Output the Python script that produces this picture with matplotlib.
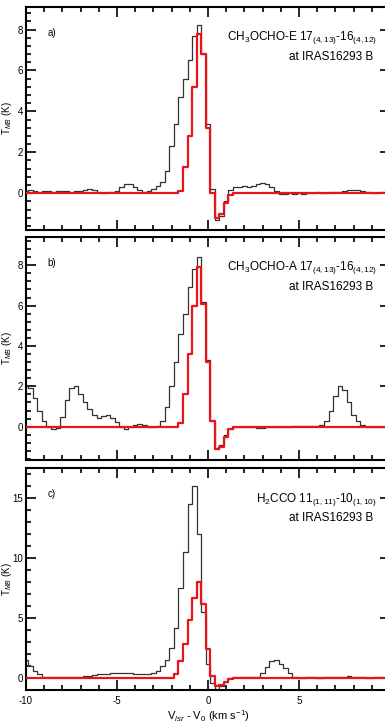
import numpy as np
import matplotlib
matplotlib.use('Agg')
import matplotlib.pyplot as plt
from matplotlib.ticker import MultipleLocator, FixedLocator

plt.rcParams['font.family'] = ['Liberation Sans', 'DejaVu Sans']
plt.rcParams['mathtext.fontset'] = 'custom'
plt.rcParams['mathtext.rm'] = 'Liberation Sans'
plt.rcParams['mathtext.it'] = 'Liberation Sans:italic'
plt.rcParams['axes.unicode_minus'] = False

# velocity channels (km/s), 0.25 km/s wide
v_start, v_step, n_chan = -10.0, 0.25, 81

# a) CH3OCHO-E
a_obs = [0.10, 0.15, 0.10, 0.05, 0.10, 0.10, 0.05, 0.10, 0.10, 0.10,
         0.05, 0.10, 0.10, 0.15, 0.20, 0.15, 0.05, 0.00, 0.05, 0.05,
         0.10, 0.30, 0.45, 0.45, 0.30, 0.15, 0.05, 0.10, 0.20, 0.35,
         0.55, 1.10, 2.30, 3.40, 4.70, 5.60, 6.50, 7.70, 8.20, 6.80,
         3.40, 0.20, -1.30, -1.10, -0.40, 0.15, 0.30, 0.30, 0.35, 0.30,
         0.35, 0.45, 0.50, 0.45, 0.30, 0.10, -0.05, -0.05, 0.00, -0.05,
         0.00, -0.05, 0.00, 0.00, 0.05, 0.00, 0.00, 0.05, 0.05, 0.05,
         0.10, 0.15, 0.15, 0.15, 0.10, 0.05, 0.00, 0.00, 0.05, 0.05, 0.05]
a_mod = [0.0] * 34 + [0.10, 1.30, 2.80, 5.20, 7.80, 6.80, 3.20, 0.00, -1.20,
                      -1.00, -0.50, -0.10] + [0.0] * 35

# b) CH3OCHO-A
b_obs = [2.00, 1.90, 1.40, 0.80, 0.30, 0.00, -0.10, -0.05, 0.50, 1.30,
         1.90, 2.00, 1.60, 1.20, 0.90, 0.60, 0.45, 0.55, 0.60, 0.45,
         0.25, 0.00, -0.10, 0.00, 0.10, 0.15, 0.10, 0.00, 0.00, 0.05,
         0.30, 1.00, 2.00, 3.20, 4.60, 5.60, 6.90, 7.80, 8.40, 6.20,
         3.30, 0.30, -1.10, -0.90, -0.40, -0.10, 0.00, 0.00, 0.00, 0.00,
         0.00, -0.05, -0.05, 0.00, 0.00, 0.00, 0.00, 0.00, 0.00, 0.05,
         0.05, 0.05, 0.05, 0.05, 0.05, 0.10, 0.30, 0.80, 1.50, 2.00,
         1.80, 1.20, 0.60, 0.30, 0.10, 0.00, 0.00, 0.00, 0.00, 0.00, 0.00]
b_mod = [0.0] * 34 + [0.20, 1.60, 3.60, 6.00, 7.90, 6.10, 3.20, 0.30, -1.10,
                      -1.00, -0.50, -0.10] + [0.0] * 35

# c) H2CCO
c_obs = [1.50, 1.00, 0.60, 0.30, 0.10, 0.05, 0.05, 0.05, 0.05, 0.05,
         0.10, 0.10, 0.10, 0.20, 0.20, 0.25, 0.30, 0.30, 0.35, 0.40,
         0.45, 0.40, 0.40, 0.40, 0.35, 0.35, 0.30, 0.30, 0.40, 0.60,
         1.00, 1.50, 2.50, 4.20, 7.50, 10.50, 14.50, 16.00, 12.00, 5.50,
         1.20, -0.40, -0.90, -0.70, -0.30, 0.00, 0.05, 0.05, 0.05, 0.05,
         0.05, 0.05, 0.40, 0.90, 1.40, 1.50, 1.20, 0.80, 0.40, 0.10,
         0.00, 0.00, 0.05, 0.05, 0.00, 0.00, 0.05, 0.05, 0.05, 0.10,
         0.10, 0.15, 0.10, 0.05, 0.05, 0.00, 0.00, 0.05, 0.05, 0.05, 0.05]
c_mod = [0.0] * 33 + [0.30, 1.40, 2.80, 4.80, 6.70, 8.00, 6.20, 2.40, 0.20,
                      -0.70, -0.60, -0.30, -0.10] + [0.0] * 35

panel_tags = ['a)', 'b)', 'c)']
line_names = [r'CH$_3$OCHO-E 17$_{(4,13)}$-16$_{(4,12)}$',
              r'CH$_3$OCHO-A 17$_{(4,13)}$-16$_{(4,12)}$',
              r'H$_2$CCO 11$_{(1,11)}$-10$_{(1,10)}$']
source = 'at IRAS16293 B'
ylims = [(-1.8, 9.1), (-1.65, 9.4), (-1.0, 17.5)]
ymajor = [2, 2, 5]
yminor = [0.4, 0.4, 1]
xlabelled = [-10, -5, 0, 5]

vel = v_start + v_step * np.arange(n_chan)
obs = [a_obs, b_obs, c_obs]
mod = [a_mod, b_mod, c_mod]

fig = plt.figure(figsize=(3.85, 7.24), dpi=100)
W, H = 385.0, 724.0
left, right = 26, 390
tops = [7, 237, 468]
bottoms = [230, 460, 690]

for k in range(3):
    h = bottoms[k] - tops[k]
    ax = fig.add_axes([left / W, 1 - bottoms[k] / H, (right - left) / W, h / H])
    ax.step(vel, obs[k], where='mid', color='#333333', lw=0.9, zorder=2)
    ax.step(vel, mod[k], where='mid', color='#e8141a', lw=1.6, zorder=3)
    ax.set_xlim(-10, 10)
    ax.set_ylim(*ylims[k])
    ax.xaxis.set_major_locator(FixedLocator(xlabelled))
    ax.xaxis.set_minor_locator(MultipleLocator(1))
    ax.yaxis.set_major_locator(MultipleLocator(ymajor[k]))
    ax.yaxis.set_minor_locator(MultipleLocator(yminor[k]))
    ax.tick_params(which='both', direction='in', top=True, right=True,
                   labelsize=7, width=1.2, pad=2)
    ax.tick_params(axis='x', pad=4)
    ax.tick_params(which='major', length=7)
    ax.tick_params(which='minor', length=3.5)
    for s in ax.spines.values():
        s.set_linewidth(1.5)
    if k < 2:
        ax.set_xticklabels([])
    else:
        ax.set_xlabel(r'V$_{lsr}$ - V$_0$ (km s$^{-1}$)', fontsize=8,
                      labelpad=2)
    ax.set_ylabel(r'T$_{MB}$ (K)', fontsize=7)
    ax.yaxis.set_label_coords(-0.033, 0.5)
    ax.text(0.06, 1 - 26 / h, panel_tags[k], transform=ax.transAxes,
            fontsize=7, va='center', ha='left')
    ax.text(0.965, 1 - 31 / h, line_names[k], transform=ax.transAxes,
            fontsize=8.5, va='center', ha='right')
    ax.text(0.955, 1 - 50 / h, source, transform=ax.transAxes, fontsize=8.5,
            va='center', ha='right')

fig.savefig('out.png', dpi=100)
